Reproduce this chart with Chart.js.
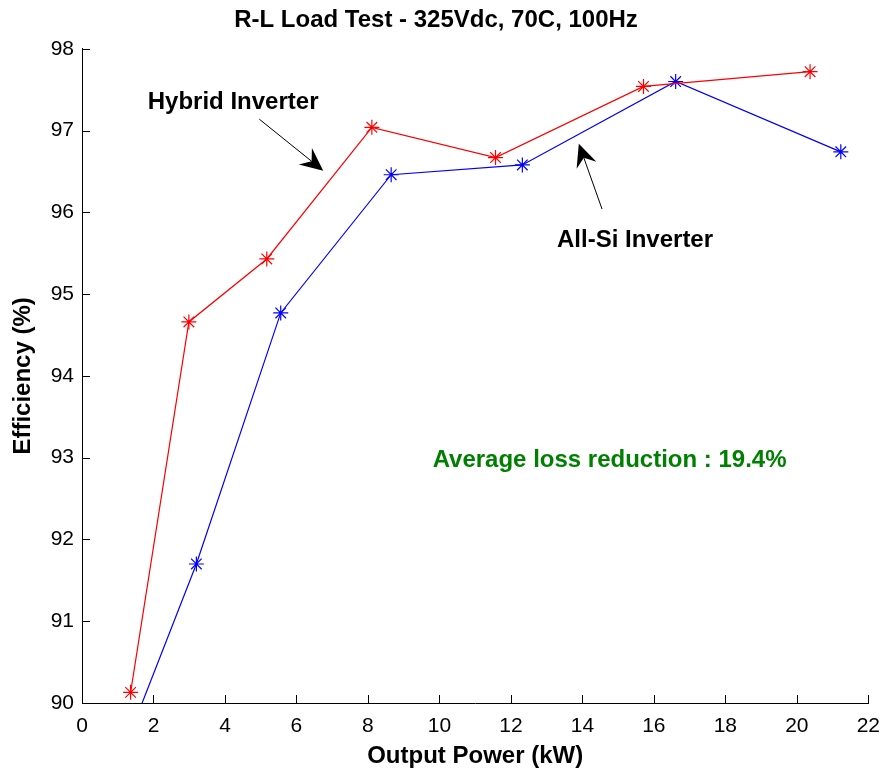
<!DOCTYPE html>
<html>
<head>
<meta charset="utf-8">
<script src="https://cdn.jsdelivr.net/npm/chart.js@4"></script>
<style>
  body { margin: 0; background: #fff; }
  #wrap { width: 891px; height: 774px; }
</style>
</head>
<body>
<div id="wrap"><canvas id="grafico" width="891" height="774"></canvas></div>
<script>
// data
const hybridX = [1.36, 2.99, 5.17, 8.11, 11.57, 15.71, 20.37];
const hybridY = [90.13, 94.66, 95.43, 97.04, 96.67, 97.54, 97.72];
const allSiX = [1.45, 3.20, 5.56, 8.65, 12.32, 16.61, 21.23];
const allSiY = [89.74, 91.70, 94.77, 96.46, 96.58, 97.60, 96.74];
const xTicks = [0, 2, 4, 6, 8, 10, 12, 14, 16, 18, 20, 22];
const yTicks = [90, 91, 92, 93, 94, 95, 96, 97, 98];

const fonte = '"Liberation Sans", Arial, sans-serif';

const pares = (xs, ys) => xs.map((x, i) => ({ x: x, y: ys[i] }));

// inward ticks (matlab style)
const ticksDentro = {
  id: 'ticksDentro',
  afterDraw(chart) {
    const { ctx, chartArea: a, scales: { x, y } } = chart;
    ctx.save();
    ctx.strokeStyle = '#000';
    ctx.lineWidth = 1;
    ctx.beginPath();
    xTicks.forEach(v => {
      const px = Math.round(x.getPixelForValue(v)) + 0.5;
      ctx.moveTo(px, a.bottom);
      ctx.lineTo(px, a.bottom - 8);
    });
    yTicks.forEach(v => {
      const py = Math.round(y.getPixelForValue(v)) + 0.5;
      ctx.moveTo(a.left, py);
      ctx.lineTo(a.left + 8, py);
    });
    ctx.stroke();
    ctx.restore();
  }
};

function seta(ctx, x1, y1, x2, y2) {
  const dx = x2 - x1, dy = y2 - y1;
  const len = Math.hypot(dx, dy);
  const ux = dx / len, uy = dy / len;
  const px = -uy, py = ux;
  const L = 23, W = 10.5, N = 15;
  ctx.beginPath();
  ctx.moveTo(x1, y1);
  ctx.lineTo(x2 - ux * N, y2 - uy * N);
  ctx.stroke();
  ctx.beginPath();
  ctx.moveTo(x2, y2);
  ctx.lineTo(x2 - ux * L + px * W, y2 - uy * L + py * W);
  ctx.lineTo(x2 - ux * N, y2 - uy * N);
  ctx.lineTo(x2 - ux * L - px * W, y2 - uy * L - py * W);
  ctx.closePath();
  ctx.fill();
}

const anotacoes = {
  id: 'anotacoes',
  afterDraw(chart) {
    const { ctx, scales: { x, y } } = chart;
    ctx.save();
    ctx.font = 'bold 24px ' + fonte;
    ctx.textBaseline = 'middle';
    ctx.textAlign = 'left';
    ctx.fillStyle = '#000';
    ctx.fillText('Hybrid Inverter', x.getPixelForValue(1.84), y.getPixelForValue(97.34));
    ctx.fillText('All-Si Inverter', x.getPixelForValue(13.29), y.getPixelForValue(95.66));
    ctx.fillStyle = '#008000';
    ctx.fillText('Average loss reduction : 19.4%', x.getPixelForValue(9.81), y.getPixelForValue(92.97));
    ctx.strokeStyle = '#000';
    ctx.fillStyle = '#000';
    ctx.lineWidth = 1;
    seta(ctx, x.getPixelForValue(4.96), y.getPixelForValue(97.14), x.getPixelForValue(6.75), y.getPixelForValue(96.51));
    seta(ctx, x.getPixelForValue(14.55), y.getPixelForValue(96.04), x.getPixelForValue(13.90), y.getPixelForValue(96.84));
    ctx.restore();
  }
};

const chart = new Chart(document.getElementById('grafico'), {
  type: 'line',
  data: {
    datasets: [
      {
        label: 'Hybrid Inverter',
        data: pares(hybridX, hybridY),
        borderColor: '#ff0000',
        backgroundColor: '#ff0000',
        borderWidth: 1.2,
        pointStyle: 'star',
        pointRadius: 7.5,
        pointBorderWidth: 1.2,
        pointBorderColor: '#ff0000',
        tension: 0,
        clip: 0
      },
      {
        label: 'All-Si Inverter',
        data: pares(allSiX, allSiY),
        borderColor: '#0000ff',
        backgroundColor: '#0000ff',
        borderWidth: 1.2,
        pointStyle: 'star',
        pointRadius: 7.5,
        pointBorderWidth: 1.2,
        pointBorderColor: '#0000ff',
        tension: 0,
        clip: 0
      }
    ]
  },
  options: {
    responsive: false,
    animation: false,
    layout: { padding: { left: 0, right: 19, top: 0, bottom: 0 } },
    plugins: {
      legend: { display: false },
      tooltip: { enabled: false },
      title: {
        display: true,
        text: 'R-L Load Test - 325Vdc, 70C, 100Hz',
        color: '#000',
        font: { family: fonte, size: 24, weight: 'bold' },
        padding: { top: 6, bottom: 14 }
      }
    },
    scales: {
      x: {
        type: 'linear',
        min: 0,
        max: 22,
        afterBuildTicks: s => { s.ticks = xTicks.map(v => ({ value: v })); },
        afterFit: s => { s.height = 71; },
        grid: { display: true, drawOnChartArea: false, drawTicks: false },
        border: { display: true, color: '#000', width: 1 },
        ticks: { color: '#000', padding: 11, font: { family: fonte, size: 21 } },
        title: {
          display: true,
          text: 'Output Power (kW)',
          color: '#000',
          font: { family: fonte, size: 24, weight: 'bold' },
          padding: { top: 0, bottom: 3 }
        }
      },
      y: {
        type: 'linear',
        min: 90,
        max: 98,
        afterBuildTicks: s => { s.ticks = yTicks.map(v => ({ value: v })); },
        afterFit: s => { s.width = 82; },
        grid: { display: true, drawOnChartArea: false, drawTicks: false },
        border: { display: true, color: '#000', width: 1 },
        ticks: { color: '#000', padding: 8, font: { family: fonte, size: 21 } },
        title: {
          display: true,
          text: 'Efficiency (%)',
          color: '#000',
          font: { family: fonte, size: 24, weight: 'bold' },
          padding: { top: 9, bottom: 0 }
        }
      }
    }
  },
  plugins: [ticksDentro, anotacoes]
});
</script>
</body>
</html>
